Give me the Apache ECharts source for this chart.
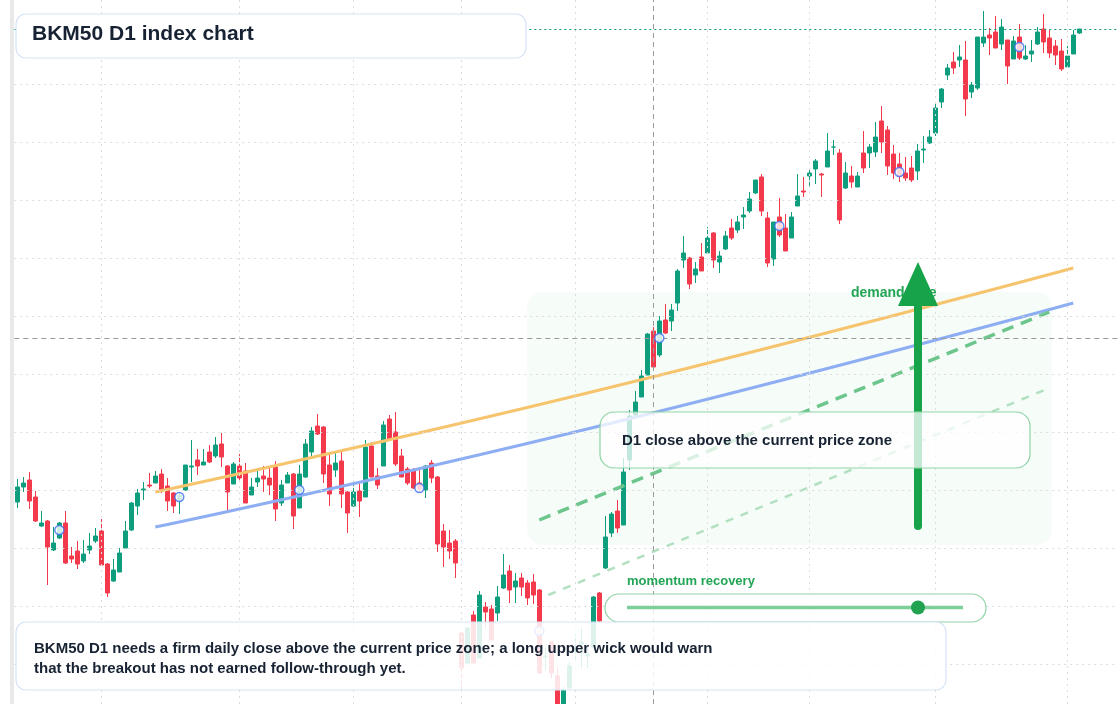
<!DOCTYPE html>
<html><head><meta charset="utf-8">
<script src="https://cdn.jsdelivr.net/npm/echarts@6/dist/echarts.min.js"></script>
<style>html,body{margin:0;padding:0;background:#fff}#c{width:1120px;height:704px}</style>
</head><body><div id="c"></div>
<script>
// [open, close, low, high]
const ohlc = [
[220,235,214,243],[235,239,230,245],[242,221,213,250],[225,201,200,231],[196,199,195,211],
[201,175,137,202],[172,179,171,195],[184,199,183,200],[199,159,158,211],[166,163,159,175],
[171,158,153,181],[161,168,159,182],[172,176,168,189],[181,186,179,194],[191,157,156,203],
[158,129,125,159],[141,152,140,163],[150,169,150,174],[174,191,174,201],[192,219,191,220],
[216,229,207,233],[232,233,222,240],[237,236,234,249],[239,246,239,251],[248,232,229,253],
[236,221,211,244],[229,216,209,230],[222,227,208,230],[232,257,231,257],[255,256,240,282],
[262,256,247,273],[257,260,257,273],[270,260,259,277],[266,277,264,285],[278,265,255,289],
[256,230,209,257],[238,258,238,260],[256,244,242,268],[251,219,219,259],[227,235,227,244],
[240,244,235,252],[246,243,230,256],[244,237,227,255],[255,213,201,261],[219,237,216,242],
[239,247,239,250],[248,206,193,249],[214,248,214,257],[245,278,244,283],[270,291,263,295],
[296,288,287,308],[295,248,239,296],[257,228,216,267],[252,259,245,269],[261,228,214,271],
[230,209,189,231],[216,230,215,241],[231,221,205,240],[225,275,225,282],[276,245,245,280],
[246,237,233,254],[256,297,256,301],[303,283,282,307],[290,258,256,310],[266,245,245,273],
[253,239,237,255],[252,234,233,254],[239,233,230,255],[232,256,224,257],[259,244,239,262],
[245,178,170,246],[191,175,155,198],[179,171,163,192],[181,159,144,183],[89,54,32,92],
[59,94,58,95],[107,59,59,111],[64,127,64,131],[115,110,95,120],[113,82,81,117],
[109,125,101,136],[134,147,133,168],[151,132,119,157],[135,141,119,149],[144,135,126,149],
[139,124,117,142],[140,127,118,148],[132,49,48,133],[65,66,52,75],[80,49,44,81],
[46,16,12,55],[14,32,10,35],[34,56,33,60],[70,72,62,88],[78,80,54,94],
[66,68,54,75],[75,125,75,126],[129,101,100,130],[154,185,153,206],[189,208,185,210],
[211,194,189,222],[197,250,197,264],[262,306,252,312],[307,320,305,331],[325,346,325,352],
[347,388,347,389],[391,355,355,395],[367,401,365,406],[402,389,388,418],[401,412,391,418],
[419,451,411,453],[462,469,454,486],[464,438,433,465],[447,453,439,460],[465,451,451,479],
[469,484,468,495],[489,462,454,490],[460,466,449,471],[473,486,472,491],[494,484,482,503],
[492,500,489,506],[505,507,493,515],[511,523,509,530],[529,542,528,542],[545,511,506,548],
[504,459,455,510],[463,500,456,500],[505,487,485,524],[494,471,471,508],[484,505,484,510],
[516,526,516,548],[531,530,525,545],[546,549,535,552],[553,561,538,563],[548,547,525,549],
[555,571,555,589],[575,575,567,582],[569,502,498,573],[534,549,533,560],[546,540,534,556],
[535,546,535,550],[569,554,549,591],[569,575,554,578],[570,585,565,600],[601,580,569,616],
[592,556,547,596],[568,549,543,577],[558,546,540,569],[549,544,541,565],[554,542,540,566],
[551,571,542,578],[572,573,559,586],[579,585,578,592],[589,614,586,618],[620,633,614,634],
[647,654,642,658],[660,654,648,670],[662,665,655,677],[662,623,606,681],[630,637,624,640],
[634,685,632,685],[679,685,675,711],[687,684,667,694],[690,674,674,706],[678,695,672,703],
[682,656,638,682],[663,681,663,686],[685,664,662,698],[663,666,662,677],[668,671,660,682],
[678,690,677,695],[693,680,669,708],[684,669,664,692],[676,667,657,682],[671,653,651,683],
[655,666,655,676],[668,687,668,692],[689,693,688,693]
];
const emptyBars = 6;
const markers = [[7,192],[27,225],[47,232],[67,234],[87,91],[107,384],[127,496],[147,550],[167,675]];
const orangeLine = [[23,230],[95,329],[176,454]];
const blueLine = [[23,195],[95,293],[176,419]];
const greenDash = [[87,202],[172,410]];
const greenThin = [[88.5,127],[172,334]];
const monthTicks = [14,37,56,74,93,115,132,153,175];
const priceGrid = [58,116,174,232,290,348,406,464,522,580,638];
const crossX = 106, crossY = 384, lastPrice = 693;

const N = ohlc.length + emptyBars;
const cats = Array.from({length:N},(_,i)=>String(i+1));

const chart = echarts.init(document.getElementById('c'));
const gridLine = {color:'#dcdcdc',type:[2,4],width:1};
chart.setOption({
  animation:false,
  grid:{left:14.3,right:1.7,top:0,bottom:0},
  xAxis:[{type:'category',data:cats,boundaryGap:true,axisLine:{show:false},axisTick:{show:false},axisLabel:{show:false},splitLine:{show:false}},
         {type:'value',min:-0.5,max:N-0.5,show:false}],
  yAxis:{type:'value',min:18,max:722,axisLine:{show:false},axisTick:{show:false},axisLabel:{show:false},splitLine:{show:false}},
  series:[
    {type:'candlestick',data:ohlc,barWidth:'80%',z:3,
     itemStyle:{color:'#0e9e7e',color0:'#f23a4c',borderColor:'#0e9e7e',borderColor0:'#f23a4c',borderWidth:1},
     markLine:{silent:true,symbol:['none','none'],animation:false,label:{show:false},
       data:[
         ...monthTicks.map(t=>({xAxis:t,lineStyle:gridLine})),
         ...priceGrid.map(v=>({yAxis:v,lineStyle:gridLine})),
         {xAxis:crossX,lineStyle:{color:'#9a9a9a',type:[5,4],width:1}},
         {yAxis:crossY,lineStyle:{color:'#9a9a9a',type:[5,4],width:1}},
         {yAxis:lastPrice,lineStyle:{color:'#0f9a74',type:[2,3],width:1}}
       ]}},
    {type:'line',xAxisIndex:1,data:orangeLine,smooth:0.5,symbol:'none',z:4,lineStyle:{color:'#f7c46e',width:3}},
    {type:'line',xAxisIndex:1,data:blueLine,smooth:0.5,symbol:'none',z:4,lineStyle:{color:'#8eaef3',width:3}},
    {type:'line',xAxisIndex:1,data:greenDash,symbol:'none',z:4,lineStyle:{color:'#6cc68c',width:3.5,type:[12,8]}},
    {type:'line',xAxisIndex:1,data:greenThin,symbol:'none',z:4,lineStyle:{color:'#b2e0c0',width:2.5,type:[8,8]}},
    {type:'scatter',data:markers,symbol:'circle',symbolSize:9,z:6,itemStyle:{color:'#ffffff',borderColor:'#3d6ff2',borderWidth:1.5}}
  ],
  graphic:[
    {type:'rect',shape:{x:10,y:0,width:4,height:704},style:{fill:'#e9e9e9'},z:1},
    {type:'rect',shape:{x:527,y:292,width:525,height:253,r:16},style:{fill:'rgba(230,247,235,0.35)'},z:0,silent:true},
    {type:'text',x:851,y:286,style:{text:'demand side',font:'bold 14px "Liberation Sans", Arial, sans-serif',fill:'#22a555'},z:50},
    {type:'rect',shape:{x:914,y:300,width:8,height:230,r:4},style:{fill:'#17a34a'},z:51},
    {type:'polygon',shape:{points:[[918,262],[898,306],[938,306]]},style:{fill:'#17a34a'},z:51},
    {type:'rect',shape:{x:600,y:412,width:430,height:56,r:14},style:{fill:'rgba(255,255,255,0.75)',stroke:'#8fd3a5',lineWidth:1.2},z:60},
    {type:'text',x:622,y:433,style:{text:'D1 close above the current price zone',font:'bold 15px "Liberation Sans", Arial, sans-serif',fill:'#172233'},z:61},
    {type:'text',x:627,y:575,style:{text:'momentum recovery',font:'bold 13px "Liberation Sans", Arial, sans-serif',fill:'#22a555'},z:61},
    {type:'rect',shape:{x:605,y:594,width:381,height:28,r:14},style:{fill:'rgba(255,255,255,0.8)',stroke:'#8fd3a5',lineWidth:1.2},z:60},
    {type:'line',shape:{x1:627,y1:607.5,x2:963,y2:607.5},style:{stroke:'#7ccf98',lineWidth:3.5},z:61},
    {type:'circle',shape:{cx:918,cy:607.5,r:7},style:{fill:'#22a352'},z:62},
    {type:'rect',shape:{x:16,y:622,width:930,height:68,r:10},style:{fill:'rgba(255,255,255,0.86)',stroke:'#d5e3f7',lineWidth:1.2},z:60},
    {type:'text',x:34,y:639,style:{text:'BKM50 D1 needs a firm daily close above the current price zone; a long upper wick would warn\nthat the breakout has not earned follow-through yet.',font:'bold 15px "Liberation Sans", Arial, sans-serif',fill:'#172233',lineHeight:20},z:61},
    {type:'rect',shape:{x:16,y:14,width:510,height:44,r:10},style:{fill:'#ffffff',stroke:'#d5e3f7',lineWidth:1.2},z:60},
    {type:'text',x:32,y:24,style:{text:'BKM50 D1 index chart',font:'bold 21px "Liberation Sans", Arial, sans-serif',fill:'#172233'},z:61}
  ]
});
</script></body></html>
